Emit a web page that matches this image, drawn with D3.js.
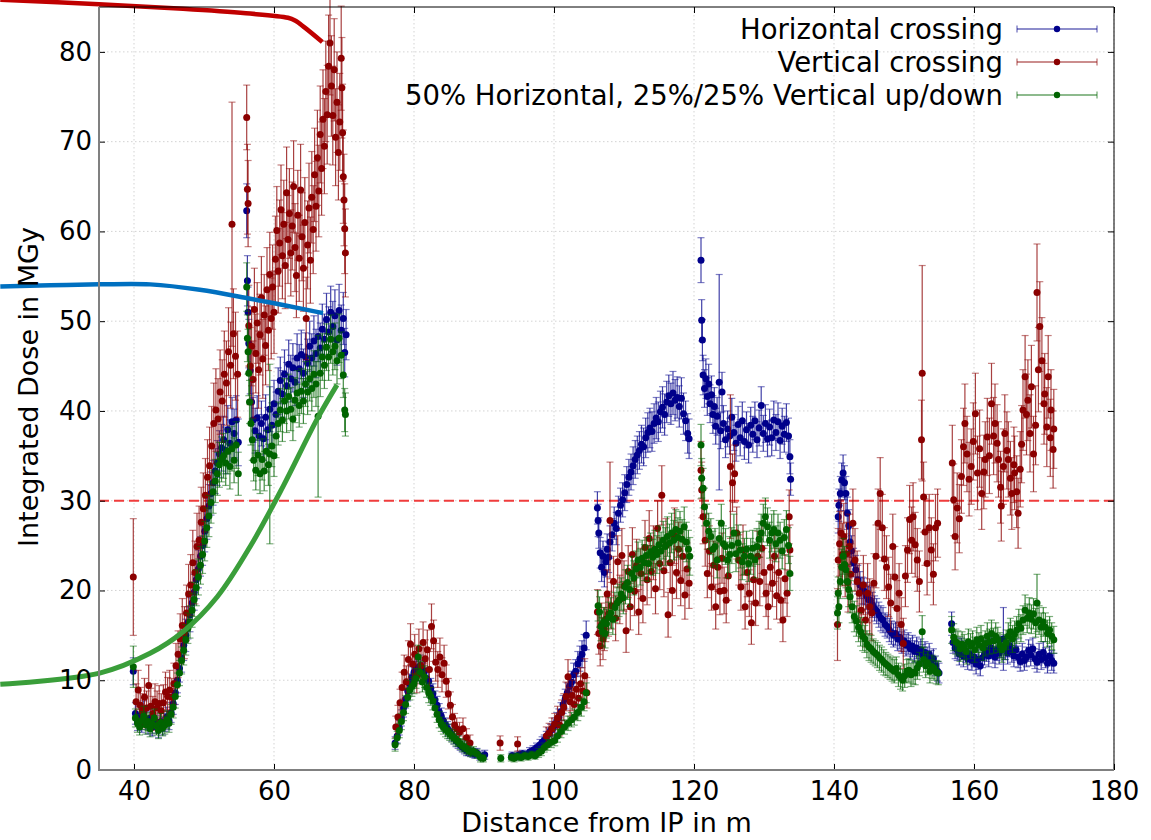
<!DOCTYPE html>
<html><head><meta charset="utf-8">
<script src="https://cdn.jsdelivr.net/npm/d3@7"></script>
<style>
html,body{margin:0;padding:0;background:#fff;}
svg{display:block;font-family:"DejaVu Sans",sans-serif;}
</style></head>
<body><svg id="chart" width="1151" height="840"></svg>
<script>
// ---------------- data ----------------
const xTicks = [40, 60, 80, 100, 120, 140, 160, 180];
const yTicks = [0, 10, 20, 30, 40, 50, 60, 70, 80];
const xLabel = "Distance from IP in m";
const yLabel = "Integrated Dose in MGy";
const seriesNames = ["Horizontal crossing", "Vertical crossing", "50% Horizontal, 25%/25% Vertical up/down"];
const thresholdValue = 30;

// [distance (m), dose (MGy), error (MGy)]
const horizontalData = [
[39.9,11.0,1.5],
[40.2,6.3,1.2],[40.5,5.4,1.0],[40.8,6.0,1.1],[41.1,5.2,1.0],[41.4,6.5,1.2],[41.7,5.5,1.0],[42.0,5.0,1.0],[42.3,5.8,1.1],[42.6,4.8,1.0],[42.9,5.6,1.1],[43.2,5.1,1.0],[43.5,4.6,1.0],[43.8,5.4,1.0],[44.1,4.9,1.0],[44.4,5.3,1.0],[44.7,5.9,1.1],[45.0,5.5,1.0],[45.3,6.4,1.1],[45.6,7.4,1.2],[45.9,8.6,1.3],[46.2,10.0,1.4],[46.5,11.3,1.5],[46.8,12.5,1.6],[47.1,13.9,1.7],[47.4,15.0,1.8],[47.7,16.4,1.8],[48.0,17.3,1.9],[48.3,18.6,2.0],[48.6,19.8,2.0],[48.9,21.2,2.1],[49.2,22.4,2.1],[49.5,23.8,2.2],[49.8,25.0,2.2],[50.1,26.6,2.3],[50.4,28.0,2.3],[50.7,29.4,2.4],[51.0,30.8,2.4],[51.3,32.0,2.5],[51.6,33.3,2.5],[51.9,34.2,2.5],[52.2,35.2,2.6],[52.5,35.9,2.6],[52.8,36.8,2.6],[53.1,35.6,2.6],[53.4,37.9,2.7],[53.7,36.4,2.6],[54.0,38.8,2.7],[54.3,37.5,2.7],[54.6,39.0,2.7],[54.9,36.5,2.6],
[56.1,62.3,3.0],[56.2,54.5,2.8],[56.3,51.0,2.8],[56.4,47.5,2.7],[56.6,44.5,2.6],[56.8,41.0,2.5],[57.0,39.0,2.5],[57.3,37.8,2.5],[57.6,39.2,2.5],[57.9,37.2,2.4],[58.2,38.6,2.5],[58.5,36.9,2.4],[58.8,39.3,2.5],[59.1,37.9,2.5],[59.4,40.2,2.5],[59.7,38.4,2.5],[60.0,40.8,2.6],[60.3,39.6,2.5],[60.6,42.2,2.6],[60.9,43.4,2.6],[61.2,41.9,2.6],[61.5,44.1,2.7],[61.8,42.8,2.6],[62.1,45.2,2.7],[62.4,43.6,2.6],[62.7,44.8,2.7],[63.0,43.2,2.6],[63.3,45.9,2.7],[63.6,44.7,2.7],[63.9,46.3,2.7],[64.2,44.2,2.7],[64.5,46.0,2.7],[64.8,45.3,2.7],[65.1,47.2,2.8],[65.4,45.9,2.7],[65.7,47.8,2.8],[66.0,46.4,2.7],[66.3,48.3,2.8],[66.6,47.0,2.8],[66.9,49.1,2.8],[67.2,48.0,2.8],[67.5,50.2,2.9],[67.8,48.8,2.8],[68.1,51.0,2.9],[68.4,49.4,2.8],[68.7,50.6,2.9],[69.0,47.9,2.8],[69.3,51.2,2.9],[69.6,49.0,2.8],[69.9,50.3,2.9],[70.1,46.5,2.7],[70.3,48.5,2.8],
[77.3,3.0,0.7],[77.6,3.8,0.8],[77.9,4.7,0.8],[78.2,5.8,0.9],[78.5,6.9,1.0],[78.8,7.9,1.0],[79.1,8.8,1.1],[79.4,9.6,1.1],[79.7,10.3,1.2],[80.0,10.9,1.2],[80.3,11.4,1.2],[80.6,11.1,1.2],[80.9,11.6,1.2],[81.2,10.8,1.2],[81.5,11.0,1.2],[81.8,10.2,1.2],[82.1,9.9,1.1],[82.4,9.1,1.1],[82.7,8.5,1.1],[83.0,7.8,1.0],[83.3,7.2,1.0],[83.6,6.5,0.9],[83.9,6.0,0.9],[84.2,5.5,0.9],[84.5,5.0,0.8],[84.8,4.6,0.8],[85.1,4.3,0.8],[85.4,3.9,0.7],[85.7,3.6,0.7],[86.0,3.3,0.7],[86.3,3.1,0.7],[86.6,2.8,0.6],[86.9,2.6,0.6],[87.2,2.4,0.6],[87.5,2.2,0.6],[87.8,2.1,0.5],[88.1,2.0,0.5],[88.4,1.9,0.5],[88.7,1.8,0.5],[89.0,1.9,0.5],[89.4,1.6,0.5],[90.1,1.7,0.5],
[94.0,1.6,0.4],[94.5,1.5,0.4],[95.0,1.7,0.4],[95.5,1.8,0.4],[96.0,1.7,0.4],[96.5,2.0,0.5],[97.0,2.2,0.5],[97.5,2.5,0.5],[98.0,2.8,0.6],[98.3,3.1,0.6],[98.6,3.3,0.6],[98.9,3.6,0.7],[99.2,4.0,0.7],[99.5,4.4,0.7],[99.8,4.6,0.8],[100.1,5.0,0.8],[100.4,5.5,0.9],[100.7,5.9,0.9],[101.0,6.5,1.0],[101.3,7.3,1.0],[101.6,7.9,1.1],[101.9,8.6,1.1],[102.2,9.3,1.2],[102.5,9.8,1.2],[102.8,10.6,1.3],[103.1,11.0,1.3],[103.4,11.8,1.4],[103.7,12.4,1.4],[104.0,12.9,1.5],[104.3,13.6,1.5],[104.6,15.0,1.6],
[106.2,29.2,1.8],[106.3,27.8,1.8],[106.4,26.4,1.7],[106.6,24.2,1.7],[106.8,22.6,1.6],[107.0,23.8,1.7],[107.2,22.0,1.6],[107.4,23.2,1.7],[107.6,24.6,1.7],[107.8,23.7,1.7],[108.0,25.4,1.8],[108.3,26.2,1.8],[108.6,27.5,1.8],[108.9,26.9,1.8],[109.2,28.6,1.9],[109.5,29.5,1.9],[109.8,30.1,1.9],[110.1,30.9,2.0],[110.4,31.8,2.0],[110.7,32.6,2.0],[111.0,33.2,2.0],[111.3,33.9,2.1],[111.6,34.6,2.1],[111.9,35.1,2.1],[112.2,35.6,2.1],[112.5,36.3,2.1],[112.8,36.0,2.1],[113.1,37.0,2.2],[113.4,37.6,2.2],[113.7,38.1,2.2],[114.0,37.7,2.2],[114.3,38.6,2.2],[114.6,39.2,2.3],[114.9,38.8,2.2],[115.2,39.9,2.3],[115.5,40.4,2.3],[115.8,39.6,2.3],[116.1,41.0,2.3],[116.4,41.7,2.3],[116.7,40.8,2.3],[117.0,42.0,2.4],[117.3,41.2,2.3],[117.6,41.5,2.3],[117.9,40.5,2.3],[118.2,41.4,2.3],[118.5,39.7,2.3],[118.8,38.9,2.2],[119.1,37.5,2.2],[119.3,36.9,2.2],
[121.0,56.8,2.5],[121.1,50.1,2.3],[121.2,47.9,2.3],[121.3,44.0,2.2],[121.5,42.5,2.1],[121.7,43.6,2.2],[121.9,41.6,2.1],[122.1,43.0,2.2],[122.3,40.8,2.1],[122.5,41.8,2.1],[122.7,39.6,2.1],[122.9,40.5,2.1],[123.1,38.3,2.0],[123.3,39.4,2.1],[123.6,43.2,12.0],[123.8,37.8,2.0],[124.0,42.1,2.2],[124.2,38.6,2.0],[124.5,36.8,2.0],[124.8,38.0,2.0],[125.1,37.2,2.0],[125.4,39.3,2.1],[125.7,37.6,2.0],[126.0,36.4,2.0],[126.3,38.5,2.0],[126.6,37.0,2.0],[126.9,38.9,2.1],[127.2,36.6,2.0],[127.5,37.9,2.0],[127.8,36.2,2.0],[128.1,38.4,2.0],[128.4,37.4,2.0],[128.7,38.9,2.1],[129.0,36.8,2.0],[129.3,38.1,2.0],[129.6,40.6,2.1],[129.9,37.5,2.0],[130.2,38.6,2.1],[130.5,36.9,2.0],[130.8,38.2,2.0],[131.1,37.0,2.0],[131.4,39.0,2.1],[131.7,37.6,2.0],[132.0,38.8,2.1],[132.3,36.7,2.0],[132.6,38.3,2.0],[132.9,37.4,2.0],[133.2,38.7,2.1],[133.5,37.2,2.0],[133.7,34.9,1.9],[133.8,32.4,1.8],
[140.6,28.2,1.8],[140.7,29.5,1.8],[140.9,30.8,1.9],[141.1,32.3,1.9],[141.3,33.1,2.0],[141.5,32.0,1.9],[141.7,30.8,1.9],[141.9,28.6,1.8],[142.1,27.2,1.8],[142.3,25.4,1.7],[142.5,24.4,1.7],[142.8,23.1,1.6],[143.1,22.3,1.6],[143.4,21.2,1.6],[143.7,20.6,1.5],[144.0,20.0,1.5],[144.3,19.9,1.5],[144.6,19.4,1.5],[144.9,19.0,1.5],[145.2,18.9,1.5],[145.5,18.4,1.4],[145.8,18.0,1.4],[146.1,17.7,1.4],[146.4,17.3,1.4],[146.7,16.9,1.4],[147.0,16.7,1.4],[147.3,16.2,1.3],[147.6,16.0,1.3],[147.9,15.6,1.3],[148.2,15.3,1.3],[148.5,15.0,1.3],[148.8,15.2,1.3],[149.1,14.6,1.3],[149.4,14.8,1.3],[149.7,14.2,1.2],[150.0,14.4,1.2],[150.3,13.9,1.2],[150.6,14.1,1.2],[150.9,13.5,1.2],[151.2,13.8,1.2],[151.5,13.2,1.2],[151.8,13.6,1.2],[152.1,13.1,1.2],[152.4,13.4,1.2],[152.7,12.8,1.2],[153.0,13.1,1.2],[153.3,12.5,1.2],[153.6,12.9,1.2],[153.9,12.2,1.1],[154.2,12.4,1.1],[154.5,11.6,1.1],[154.8,11.0,1.1],[155.0,10.8,1.1],
[156.8,16.3,1.3],[157.0,14.2,1.2],[157.3,13.6,1.2],[157.6,13.4,1.2],[157.9,12.9,1.2],[158.2,13.5,1.2],[158.5,12.7,1.2],[158.8,13.2,1.2],[159.1,12.4,1.2],[159.4,12.9,1.2],[159.7,12.2,1.1],[160.0,12.6,1.1],[160.3,11.8,1.1],[160.6,12.3,1.1],[160.9,11.6,1.1],[161.2,12.5,1.1],[161.5,12.9,1.2],[161.8,13.3,1.2],[162.1,12.7,1.2],[162.4,13.6,1.2],[162.7,13.1,1.2],[163.0,12.6,1.2],[163.3,13.4,1.2],[163.6,13.0,1.2],[163.9,13.7,1.2],[164.2,14.6,3.5],[164.5,13.5,1.2],[164.8,13.0,1.2],[165.1,13.8,1.2],[165.4,13.2,1.2],[165.7,12.7,1.2],[166.0,13.4,1.2],[166.3,12.6,1.2],[166.6,12.1,1.1],[166.9,12.9,1.2],[167.2,12.2,1.1],[167.5,12.6,1.1],[167.8,13.3,1.2],[168.1,12.8,1.2],[168.4,13.5,1.2],[168.7,12.4,1.1],[169.0,12.0,1.1],[169.3,12.9,1.2],[169.6,12.3,1.1],[169.9,13.1,1.2],[170.2,12.5,1.1],[170.5,11.9,1.1],[170.8,12.7,1.1],[171.1,12.2,1.1],[171.4,11.9,1.1]
];

const verticalData = [
[39.9,21.5,6.5],
[40.3,7.6,2.0],[40.6,8.9,2.2],[40.9,7.2,2.0],[41.2,6.6,1.9],[41.5,8.1,2.1],[41.8,6.9,1.9],[42.1,9.4,2.3],[42.4,7.1,2.0],[42.7,6.3,1.9],[43.0,7.6,2.0],[43.3,6.9,1.9],[43.6,7.4,2.0],[43.9,6.6,1.9],[44.2,7.5,2.0],[44.5,8.7,2.2],[44.8,8.2,2.1],[45.1,8.9,2.2],[45.4,8.1,2.1],[45.7,9.6,2.3],[46.0,11.6,2.5],[46.3,12.9,2.6],[46.6,14.6,2.8],[46.9,16.1,3.0],[47.2,15.3,2.9],[47.5,17.5,3.1],[47.8,19.6,3.3],[48.1,20.6,3.4],[48.4,23.1,3.6],[48.7,22.0,3.5],[49.0,24.9,3.7],[49.3,25.6,3.8],[49.6,27.6,3.9],[49.9,29.1,4.0],[50.2,30.6,4.1],[50.5,32.6,4.2],[50.8,33.9,4.3],[51.1,36.1,4.4],[51.4,38.6,4.5],[51.7,40.1,4.6],[52.0,39.1,4.5],[52.3,42.1,4.7],[52.6,41.1,4.6],[52.9,44.1,4.8],[53.2,43.1,4.7],[53.5,46.6,4.9],[53.8,45.1,4.8],[54.0,60.8,13.6],[54.2,48.6,5.0],[54.5,46.1,4.9],[54.8,44.1,4.8],
[56.1,72.7,3.6],[56.2,64.7,5.0],[56.3,63.1,4.8],[56.4,49.5,4.5],[56.6,45.0,4.3],[56.8,47.2,4.4],[57.0,43.5,4.3],[57.2,51.3,4.6],[57.4,46.4,4.4],[57.6,49.8,4.5],[57.8,44.6,4.3],[58.0,48.5,4.5],[58.2,52.6,4.6],[58.4,45.8,4.4],[58.6,50.7,4.5],[58.8,47.3,4.4],[59.0,53.5,4.7],[59.2,49.0,4.5],[59.4,55.2,4.7],[59.6,50.3,4.5],[59.8,53.8,4.7],[60.0,51.0,4.6],[60.2,56.9,4.8],[60.4,60.1,4.9],[60.6,55.6,4.7],[60.8,58.7,4.8],[61.0,62.4,5.0],[61.2,57.3,4.8],[61.4,60.8,4.9],[61.6,56.2,4.8],[61.8,64.3,5.1],[62.0,59.1,4.9],[62.2,62.0,5.0],[62.4,57.6,4.8],[62.6,60.6,4.9],[62.8,65.0,5.1],[63.0,58.2,4.9],[63.2,55.1,4.7],[63.4,61.8,5.0],[63.6,57.0,4.8],[63.8,64.6,5.1],[64.0,59.4,4.9],[64.2,55.9,4.8],[64.4,61.0,5.0],[64.6,50.3,4.6],[64.8,58.5,4.9],[65.0,62.6,5.0],[65.2,56.8,4.8],[65.4,63.8,5.1],[65.6,60.2,4.9],[65.8,66.3,5.2],[66.0,62.8,5.0],[66.2,68.2,5.3],[66.4,64.5,5.1],[66.6,70.8,5.4],[66.8,67.0,5.2],[67.0,72.5,5.5],[67.2,69.5,5.3],[67.4,75.6,5.6],[67.6,73.0,5.5],[67.8,78.4,5.7],[68.0,81.0,5.8],[68.2,76.2,5.6],[68.4,72.9,5.5],[68.6,78.0,5.7],[68.8,70.5,5.4],[69.0,74.4,5.6],[69.2,68.8,5.3],[69.4,72.2,5.4],[69.6,79.3,5.8],[69.7,76.0,5.6],[69.8,71.0,5.4],[69.9,66.1,5.2],[70.0,63.5,5.1],[70.1,60.3,5.0],[70.2,57.6,4.9],
[77.4,4.8,1.2],[77.7,5.9,1.3],[78.0,7.5,1.5],[78.3,9.2,1.7],[78.6,10.9,1.9],[78.9,9.8,1.8],[79.2,12.3,2.1],[79.5,14.0,2.3],[79.8,11.8,2.0],[80.1,12.9,2.2],[80.4,10.5,1.9],[80.7,13.5,2.2],[81.0,11.6,2.0],[81.3,14.2,2.3],[81.6,12.4,2.1],[81.9,13.4,2.2],[82.2,11.2,2.0],[82.5,16.0,2.5],[82.8,14.4,2.3],[83.1,12.0,2.1],[83.4,11.2,2.0],[83.7,12.6,2.1],[84.0,10.6,1.9],[84.3,11.9,2.0],[84.6,9.9,1.8],[84.9,8.5,1.7],[85.2,7.2,1.5],[85.5,5.9,1.4],[85.8,5.0,1.3],[86.1,4.6,1.2],[86.5,4.2,1.1],[87.0,4.6,1.2],[87.5,3.6,1.0],[88.0,3.0,0.9],
[92.3,3.0,0.8],[94.8,2.9,0.8],
[98.9,3.8,1.0],[99.3,4.1,1.1],[99.7,4.6,1.2],[100.1,5.1,1.2],[100.5,5.8,1.3],[100.8,5.0,1.2],[101.1,6.4,1.4],[101.4,7.0,1.5],[101.7,8.2,1.6],[102.0,10.4,1.9],[102.3,7.6,1.6],[102.6,8.3,1.7],[102.9,7.3,1.6],[103.2,9.0,1.8],[103.5,8.0,1.7],[103.8,9.6,1.8],[104.1,8.8,1.7],[104.4,10.5,1.9],[104.7,8.6,1.7],
[106.2,17.6,2.5],[106.4,15.2,2.3],[106.6,13.8,2.2],[106.8,16.2,2.4],[107.0,14.6,2.3],[107.2,15.7,2.4],[107.4,16.8,2.5],[107.6,19.6,2.7],[107.8,17.4,2.5],[108.0,27.8,6.5],[108.2,18.3,2.6],[108.5,21.0,2.8],[108.8,16.9,2.5],[109.1,23.2,2.9],[109.4,19.0,2.7],[109.7,23.9,3.0],[110.0,20.5,2.8],[110.3,15.5,2.4],[110.6,22.1,2.9],[110.9,18.2,2.6],[111.2,24.0,3.0],[111.5,19.9,2.7],[111.8,22.8,2.9],[112.1,17.6,2.5],[112.4,21.9,2.8],[112.7,19.1,2.7],[113.0,24.8,3.0],[113.3,21.2,2.8],[113.6,25.8,3.1],[113.9,22.1,2.9],[114.2,24.2,3.0],[114.5,20.2,2.8],[114.8,26.9,3.1],[115.1,23.0,2.9],[115.4,30.6,3.3],[115.7,22.2,2.9],[116.0,25.0,3.0],[116.3,17.3,2.5],[116.6,23.1,2.9],[116.9,20.0,2.8],[117.2,26.1,3.1],[117.5,22.0,2.9],[117.8,24.6,3.0],[118.1,21.1,2.8],[118.4,23.8,3.0],[118.7,19.5,2.7],[119.0,22.4,2.9],[119.3,20.8,2.8],
[121.0,33.4,3.2],[121.1,31.2,3.1],[121.3,28.2,3.0],[121.6,25.6,2.9],[121.9,21.9,2.7],[122.2,24.4,2.8],[122.5,20.4,2.6],[122.8,22.8,2.7],[123.1,18.2,2.5],[123.4,22.6,2.7],[123.7,19.9,2.6],[124.0,23.6,2.8],[124.3,20.0,2.6],[124.6,18.9,2.5],[124.9,21.6,2.7],[125.2,33.8,8.0],[125.5,32.0,3.2],[125.8,33.0,3.2],[126.1,26.4,2.9],[126.4,23.4,2.8],[126.7,20.4,2.6],[127.0,24.5,2.8],[127.3,18.2,2.5],[127.6,22.0,2.7],[127.9,19.7,2.6],[128.2,16.4,2.4],[128.5,21.2,2.7],[128.8,18.6,2.5],[129.1,23.8,2.8],[129.4,21.0,2.7],[129.7,24.7,2.8],[130.0,22.0,2.7],[130.3,19.7,2.6],[130.6,18.2,2.5],[130.9,22.6,2.7],[131.2,20.8,2.6],[131.5,23.8,2.8],[131.8,19.4,2.6],[132.1,22.0,2.7],[132.4,18.9,2.5],[132.7,16.7,2.4],[133.0,21.3,2.7],[133.3,19.7,2.6],[133.6,28.2,3.0],[133.7,24.5,2.8],
[140.5,16.2,4.0],[140.6,23.4,3.5],[140.8,25.2,3.6],[141.0,26.4,3.7],[141.2,24.0,3.5],[141.4,26.0,3.7],[141.6,22.8,3.5],[141.8,24.1,3.5],[142.0,20.9,3.3],[142.2,24.9,3.6],[142.4,21.8,3.4],[142.7,27.5,3.8],[143.0,23.4,3.5],[143.3,21.0,3.4],[143.6,19.7,3.3],[143.9,17.8,3.1],[144.2,20.6,3.3],[144.5,16.7,3.0],[144.8,19.7,3.3],[145.1,18.2,3.1],[145.4,17.5,3.1],[145.7,20.8,3.3],[146.0,23.8,3.5],[146.3,27.5,3.8],[146.6,30.8,4.0],[146.9,27.0,3.7],[147.2,23.5,3.5],[147.5,22.6,3.5],[147.8,20.4,3.3],[148.1,18.6,3.2],[148.4,24.9,3.6],[148.7,21.5,3.4],[149.0,18.0,3.1],[149.3,19.7,3.3],[149.6,16.2,3.0],[149.9,14.1,2.8],[150.2,21.6,3.4],[150.5,24.5,3.6],[150.8,27.9,3.8],[151.1,25.6,3.7],[151.3,28.2,3.8],[151.6,25.1,3.6],[151.9,23.4,3.5],[152.2,21.0,3.4],[152.5,36.8,4.4],[152.6,44.2,12.0],[152.8,30.4,3.9],[153.0,26.5,3.7],[153.3,23.0,3.5],[153.6,27.0,3.7],[153.9,24.5,3.6],[154.2,21.8,3.4],[154.5,27.0,3.7],[154.8,27.5,3.8],
[156.9,34.2,4.2],[157.1,30.1,4.0],[157.3,26.0,3.7],[157.6,29.2,3.9],[157.9,28.0,3.8],[158.2,32.7,4.1],[158.5,36.0,4.3],[158.7,38.6,4.4],[159.0,35.2,4.2],[159.3,32.4,4.1],[159.6,33.8,4.2],[159.9,36.6,4.3],[160.2,39.7,4.5],[160.5,33.1,4.1],[160.8,35.8,4.3],[161.1,30.8,4.0],[161.4,33.2,4.1],[161.6,34.6,4.2],[161.9,37.1,4.3],[162.2,35.0,4.2],[162.5,40.8,4.5],[162.8,37.2,4.3],[163.0,38.6,4.4],[163.3,36.4,4.3],[163.5,34.6,4.2],[163.8,31.5,4.0],[163.9,29.4,3.9],[164.2,33.8,4.2],[164.4,37.5,4.3],[164.7,35.6,4.3],[164.9,34.6,4.2],[165.2,32.5,4.1],[165.4,30.8,4.0],[165.7,34.0,4.2],[165.8,33.1,4.1],[166.1,31.0,4.0],[166.3,28.6,3.9],[166.6,33.5,4.2],[166.8,36.3,4.3],[167.0,40.1,4.5],[167.3,43.8,4.6],[167.5,39.6,4.5],[167.7,41.2,4.5],[168.0,37.5,4.3],[168.2,42.7,4.6],[168.5,35.2,4.2],[168.8,38.4,4.4],[169.0,53.2,5.4],[169.2,44.6,4.7],[169.4,49.4,5.0],[169.7,45.6,4.8],[170.0,40.8,4.5],[170.1,41.9,4.5],[170.4,38.2,4.4],[170.6,43.8,4.6],[170.9,37.0,4.3],[171.0,40.1,4.5],[171.3,35.7,4.3],[171.4,38.0,4.4]
];

const mixedData = [
[39.9,11.5,2.3],
[40.2,5.8,1.0],[40.5,5.2,1.0],[40.8,4.8,0.9],[41.1,5.5,1.0],[41.4,6.0,1.1],[41.7,5.0,1.0],[42.0,5.4,1.0],[42.3,4.6,0.9],[42.6,5.1,1.0],[42.9,5.8,1.0],[43.2,4.9,1.0],[43.5,4.4,0.9],[43.8,5.3,1.0],[44.1,4.7,0.9],[44.4,5.0,1.0],[44.7,5.6,1.0],[45.0,5.2,1.0],[45.3,6.2,1.1],[45.6,7.0,1.2],[45.9,8.2,1.3],[46.2,9.5,1.3],[46.5,10.8,1.4],[46.8,12.2,1.5],[47.1,13.3,1.6],[47.4,14.5,1.7],[47.7,15.8,1.7],[48.0,16.5,1.8],[48.3,17.8,1.9],[48.6,19.0,1.9],[48.9,20.3,2.0],[49.2,21.5,2.0],[49.5,22.8,2.1],[49.8,24.0,2.1],[50.1,25.5,2.2],[50.4,27.0,2.2],[50.7,28.3,2.3],[51.0,29.8,2.3],[51.3,31.0,2.4],[51.6,32.2,2.4],[51.9,33.0,2.4],[52.2,34.0,2.5],[52.5,34.6,2.5],[52.8,35.0,2.5],[53.1,34.2,2.5],[53.4,35.5,2.5],[53.7,33.8,2.5],[54.0,35.8,2.5],[54.3,34.5,2.5],[54.6,36.2,2.6],[54.9,33.0,2.4],
[56.1,53.8,2.7],[56.2,48.1,2.6],[56.3,46.6,2.5],[56.4,44.2,2.5],[56.5,41.0,2.4],[56.7,38.6,2.4],[56.9,36.8,2.3],[57.1,34.5,2.3],[57.4,33.4,2.2],[57.7,35.1,2.3],[58.0,33.0,2.2],[58.3,34.6,2.3],[58.6,33.3,2.2],[58.9,35.5,2.3],[59.2,34.0,2.3],[59.4,35.2,10.0],[59.7,36.1,2.3],[60.0,35.0,2.3],[60.3,37.2,2.4],[60.6,38.6,2.4],[60.9,40.1,2.4],[61.2,39.0,2.4],[61.5,41.1,2.5],[61.8,40.0,2.4],[62.1,41.6,2.5],[62.4,40.2,2.4],[62.7,39.1,2.4],[63.0,41.2,2.5],[63.3,42.0,2.5],[63.6,40.6,2.4],[63.9,42.2,2.5],[64.2,41.1,2.5],[64.5,43.0,2.5],[64.8,42.1,2.5],[65.1,43.6,2.5],[65.4,42.5,2.5],[65.7,44.1,2.6],[66.0,43.0,2.5],[66.3,39.4,9.0],[66.6,44.2,2.6],[66.9,46.0,2.6],[67.2,45.1,2.6],[67.5,47.1,2.6],[67.8,46.0,2.6],[68.1,48.0,2.7],[68.4,46.6,2.6],[68.7,47.2,2.6],[69.0,45.6,2.6],[69.3,48.1,2.7],[69.6,46.2,2.6],[69.9,44.0,2.5],[70.1,40.1,2.4],[70.2,39.6,2.4],
[77.3,2.8,0.7],[77.6,3.6,0.7],[77.9,4.4,0.8],[78.2,5.4,0.9],[78.5,6.4,0.9],[78.8,7.3,1.0],[79.1,8.1,1.0],[79.4,8.9,1.1],[79.7,9.3,1.1],[80.0,9.6,1.1],[80.3,10.2,1.1],[80.6,12.6,1.3],[80.9,10.9,1.2],[81.2,9.8,1.1],[81.5,10.4,1.2],[81.8,9.2,1.1],[82.1,8.6,1.1],[82.4,8.2,1.0],[82.7,7.7,1.0],[83.0,6.9,1.0],[83.3,6.2,0.9],[83.6,5.6,0.9],[83.9,5.1,0.8],[84.2,4.8,0.8],[84.5,4.5,0.8],[84.8,4.3,0.8],[85.1,4.0,0.7],[85.4,3.8,0.7],[85.7,3.6,0.7],[86.0,3.4,0.7],[86.3,3.2,0.6],[86.6,2.9,0.6],[86.9,2.7,0.6],[87.2,2.6,0.6],[87.5,2.4,0.6],[87.8,2.2,0.5],[88.1,2.0,0.5],[88.5,2.1,0.5],[89.0,1.8,0.5],[89.5,1.4,0.5],[89.9,1.3,0.4],
[92.4,1.3,0.4],[93.9,1.4,0.4],[94.3,1.3,0.4],[94.7,1.5,0.4],[95.3,1.4,0.4],[95.8,1.6,0.4],[96.3,1.5,0.4],[96.8,1.7,0.4],[97.3,1.6,0.4],[97.8,1.9,0.5],[98.2,2.1,0.5],[98.6,2.5,0.5],[99.1,2.8,0.6],[99.6,3.1,0.6],[100.1,3.3,0.6],[100.5,3.8,0.7],[101.0,4.3,0.7],[101.5,4.8,0.8],[102.0,5.2,0.8],[102.5,5.6,0.8],[102.9,5.9,0.9],[103.4,6.4,0.9],[103.9,7.0,1.0],[104.3,7.6,1.0],[104.6,8.6,1.1],
[106.3,18.3,1.7],[106.5,17.6,1.7],[106.7,16.0,1.6],[106.9,15.4,1.6],[107.1,16.5,1.6],[107.3,15.2,1.6],[107.5,16.3,1.6],[107.8,17.0,1.7],[108.1,17.5,1.7],[108.4,16.8,1.7],[108.7,18.1,1.7],[109.0,18.6,1.8],[109.3,18.9,1.8],[109.6,19.6,1.8],[109.9,19.2,1.8],[110.2,20.4,1.9],[110.5,20.9,1.9],[110.8,20.1,1.9],[111.1,21.9,1.9],[111.4,21.4,1.9],[111.7,22.4,2.0],[112.0,23.4,2.0],[112.3,22.6,2.0],[112.6,23.6,2.0],[112.9,23.1,2.0],[113.2,23.9,2.0],[113.5,23.0,2.0],[113.8,24.3,2.1],[114.1,23.7,2.0],[114.4,24.6,2.1],[114.7,24.0,2.1],[115.0,25.1,2.1],[115.3,24.4,2.1],[115.6,25.6,2.1],[115.9,24.9,2.1],[116.2,26.0,2.2],[116.5,25.3,2.1],[116.8,26.4,2.2],[117.1,25.6,2.2],[117.4,26.8,2.2],[117.7,25.9,2.2],[118.0,26.6,2.2],[118.3,25.7,2.2],[118.6,27.1,2.2],[118.9,25.4,2.2],[119.2,24.6,2.1],[119.4,23.8,2.1],
[121.0,36.2,2.3],[121.1,32.5,2.2],[121.3,31.4,2.2],[121.5,29.3,2.1],[121.8,27.5,2.1],[122.1,26.6,2.0],[122.4,26.0,2.0],[122.7,24.6,2.0],[123.0,24.9,2.0],[123.3,23.4,2.0],[123.6,25.8,2.0],[123.9,27.5,2.1],[124.2,25.2,2.0],[124.5,24.9,2.0],[124.8,23.4,2.0],[125.1,24.0,2.0],[125.4,25.0,2.0],[125.7,26.4,2.1],[126.0,24.1,2.0],[126.3,25.3,2.0],[126.6,24.5,2.0],[126.9,23.2,2.0],[127.2,23.8,2.0],[127.5,24.6,2.0],[127.8,23.0,2.0],[128.1,23.8,2.0],[128.4,24.7,2.0],[128.7,23.4,2.0],[129.0,24.9,2.0],[129.3,25.7,2.0],[129.6,26.4,2.1],[129.9,27.5,2.1],[130.2,28.2,2.1],[130.5,27.1,2.1],[130.8,25.6,2.0],[131.1,26.4,2.1],[131.4,26.8,2.1],[131.7,25.2,2.0],[132.0,26.4,2.1],[132.3,25.6,2.0],[132.6,24.4,2.0],[132.9,25.9,2.0],[133.2,26.8,2.1],[133.5,25.0,2.0],[133.7,21.9,1.9],
[140.5,17.5,1.8],[140.6,19.7,1.8],[140.7,18.2,1.8],[140.9,21.0,1.9],[141.1,22.6,2.0],[141.3,23.8,2.0],[141.5,22.9,2.0],[141.7,22.3,2.0],[141.9,21.0,1.9],[142.1,20.1,1.9],[142.3,19.3,1.8],[142.6,18.2,1.8],[142.9,17.1,1.7],[143.2,16.6,1.7],[143.5,15.9,1.6],[143.8,15.4,1.6],[144.1,14.9,1.6],[144.4,14.6,1.5],[144.7,14.0,1.5],[145.0,13.7,1.5],[145.3,13.5,1.5],[145.6,13.2,1.4],[145.9,13.0,1.4],[146.2,12.8,1.4],[146.5,12.5,1.4],[146.8,12.3,1.4],[147.1,12.0,1.4],[147.4,11.8,1.3],[147.7,11.6,1.3],[148.0,11.4,1.3],[148.3,11.2,1.3],[148.6,11.0,1.3],[148.9,11.3,1.3],[149.2,10.6,1.3],[149.5,10.3,1.3],[149.8,10.0,1.2],[150.1,10.5,1.3],[150.4,11.0,1.3],[150.7,11.1,1.3],[151.0,10.6,1.3],[151.3,10.9,1.3],[151.6,10.8,1.3],[151.9,11.4,1.3],[152.2,11.8,1.3],[152.6,15.4,1.8],[152.8,12.3,1.4],[153.1,11.6,1.3],[153.4,11.9,1.3],[153.7,11.0,1.3],[154.0,11.5,1.3],[154.3,11.3,1.3],[154.6,10.9,1.3],[154.9,10.8,1.3],
[156.8,15.6,1.5],[157.1,14.8,1.5],[157.4,14.3,1.4],[157.7,14.1,1.4],[158.0,13.5,1.4],[158.3,14.0,1.4],[158.6,13.7,1.4],[158.9,13.2,1.4],[159.2,14.3,1.4],[159.5,13.8,1.4],[159.8,14.1,1.4],[160.1,13.4,1.4],[160.4,14.5,1.4],[160.7,13.9,1.4],[161.0,14.6,1.5],[161.3,13.6,1.4],[161.6,14.1,1.4],[161.9,14.9,1.5],[162.2,14.3,1.4],[162.5,15.2,1.5],[162.8,14.4,1.4],[163.1,14.9,1.5],[163.4,14.5,1.4],[163.7,13.9,1.4],[164.0,13.4,1.4],[164.3,13.7,1.4],[164.6,14.2,1.4],[164.9,14.9,1.5],[165.2,15.4,1.5],[165.5,14.6,1.5],[165.8,15.1,1.5],[166.1,15.6,1.5],[166.4,16.3,1.6],[166.7,15.8,1.5],[167.0,16.7,1.6],[167.3,17.8,1.7],[167.6,16.9,1.6],[167.9,17.5,1.7],[168.2,16.8,1.6],[168.5,17.4,1.7],[168.8,16.4,1.6],[169.0,18.6,3.2],[169.3,16.7,1.6],[169.6,15.9,1.6],[169.9,16.5,1.6],[170.2,15.9,1.6],[170.5,15.2,1.5],[170.8,15.6,1.5],[171.1,14.9,1.5],[171.4,14.5,1.5]
];

// overlaid guide curves [distance, dose]
const redCurve   = [[20.9,85.8],[35.0,85.3],[47.0,84.8],[56.0,84.3],[62.0,83.8],[63.0,83.5],[64.4,82.7],[66.9,81.1]];
const blueCurve  = [[20.9,53.85],[28.0,54.0],[35.1,54.1],[42.3,54.1],[49.4,53.5],[56.6,52.5],[61.3,51.8],[67.0,50.9]];
const greenCurve = [[20.9,9.55],[35.1,10.8],[42.3,13.0],[47.0,15.4],[51.9,19.3],[56.6,24.9],[61.3,31.6],[66.1,39.0],[69.0,42.9]];

// ---------------- drawing ----------------
const svg = d3.select("#chart");
const L = 99, R = 1114, T = 7, B = 770;
const x = d3.scaleLinear().domain([35, 180]).range([L, R]);
const y = d3.scaleLinear().domain([0, 85]).range([B, T]);

// grid
const grid = svg.append("g");
grid.selectAll(".gx").data(xTicks).join("line")
  .attr("x1", d => x(d)).attr("x2", d => x(d)).attr("y1", T).attr("y2", B)
  .attr("stroke", "#c8c8c8").attr("stroke-width", 0.8).attr("stroke-dasharray", "1.5,2.5");
grid.selectAll(".gy").data(yTicks).join("line")
  .attr("x1", L).attr("x2", R).attr("y1", d => y(d)).attr("y2", d => y(d))
  .attr("stroke", "#c8c8c8").attr("stroke-width", 0.8).attr("stroke-dasharray", "1.5,2.5");

// threshold line
svg.append("line")
  .attr("x1", L).attr("x2", R).attr("y1", y(thresholdValue)).attr("y2", y(thresholdValue))
  .attr("stroke", "#f03c3c").attr("stroke-width", 2).attr("stroke-dasharray", "10,5");

// error bar series
const series = [
  {data: horizontalData, color: "#00008b"},
  {data: verticalData,   color: "#8b0000"},
  {data: mixedData,      color: "#006400"}
];
series.forEach(s => {
  const g = svg.append("g");
  const bars = g.append("g").attr("stroke", s.color).attr("stroke-width", 1.2).attr("stroke-opacity", 0.75);
  bars.selectAll("line.v").data(s.data).join("line")
    .attr("x1", d => x(d[0])).attr("x2", d => x(d[0]))
    .attr("y1", d => y(d[1] - d[2])).attr("y2", d => y(d[1] + d[2]));
  bars.selectAll("line.ct").data(s.data).join("line").attr("class", "ct")
    .attr("x1", d => x(d[0]) - 3.5).attr("x2", d => x(d[0]) + 3.5)
    .attr("y1", d => y(d[1] + d[2])).attr("y2", d => y(d[1] + d[2]))
    .attr("stroke-opacity", 0.5);
  bars.selectAll("line.cb").data(s.data).join("line").attr("class", "cb")
    .attr("x1", d => x(d[0]) - 3.5).attr("x2", d => x(d[0]) + 3.5)
    .attr("y1", d => y(d[1] - d[2])).attr("y2", d => y(d[1] - d[2]))
    .attr("stroke-opacity", 0.5);
  g.selectAll("circle").data(s.data).join("circle")
    .attr("cx", d => x(d[0])).attr("cy", d => y(d[1])).attr("r", 3.5)
    .attr("fill", s.color);
});

// guide curves
const lineGen = d3.line().x(d => x(d[0])).y(d => y(d[1])).curve(d3.curveCatmullRom.alpha(0.5));
[[redCurve, "#c00000", 4.5], [blueCurve, "#0070c0", 4.5], [greenCurve, "#3a9e3a", 5]].forEach(([c, col, w]) => {
  svg.append("path").attr("d", lineGen(c)).attr("fill", "none")
    .attr("stroke", col).attr("stroke-width", w).attr("stroke-linecap", "butt");
});

// axes
const fs = "26px";
const ax = svg.append("g").attr("transform", `translate(0,${B})`)
  .call(d3.axisBottom(x).tickValues(xTicks).tickSizeInner(-6).tickSizeOuter(0).tickPadding(12).tickFormat(d3.format("d")));
const ay = svg.append("g").attr("transform", `translate(${L},0)`)
  .call(d3.axisLeft(y).tickValues(yTicks).tickSizeInner(-6).tickSizeOuter(0).tickPadding(7).tickFormat(d3.format("d")));
const at = svg.append("g").attr("transform", `translate(0,${T})`)
  .call(d3.axisTop(x).tickValues(xTicks).tickSizeInner(-6).tickSizeOuter(0).tickFormat(""));
const ar = svg.append("g").attr("transform", `translate(${R},0)`)
  .call(d3.axisRight(y).tickValues(yTicks).tickSizeInner(-6).tickSizeOuter(0).tickFormat(""));
[ax, ay, at, ar].forEach(a => {
  a.select(".domain").remove();
  a.selectAll(".tick line").attr("stroke", "#000").attr("stroke-width", 1);
  a.selectAll(".tick text").attr("font-size", fs).attr("fill", "#000").attr("font-family", "DejaVu Sans");
});

// spines
svg.append("line").attr("x1", L).attr("x2", R).attr("y1", T).attr("y2", T).attr("stroke", "#000").attr("stroke-width", 1);
svg.append("line").attr("x1", R).attr("x2", R).attr("y1", T).attr("y2", B).attr("stroke", "#000").attr("stroke-width", 1);
svg.append("line").attr("x1", L).attr("x2", L).attr("y1", T).attr("y2", B + 1).attr("stroke", "#808080").attr("stroke-width", 2);
svg.append("line").attr("x1", L - 1).attr("x2", R).attr("y1", B).attr("y2", B).attr("stroke", "#808080").attr("stroke-width", 2);

// axis labels
svg.append("text").attr("x", (L + R) / 2).attr("y", 832).attr("text-anchor", "middle")
  .attr("font-size", "27px").text(xLabel);
svg.append("text").attr("transform", `translate(38,${387}) rotate(-90)`).attr("text-anchor", "middle")
  .attr("font-size", "27px").text(yLabel);

// legend
const legY = [29, 62, 95];
const legCols = ["#00008b", "#8b0000", "#006400"];
seriesNames.forEach((name, i) => {
  const g = svg.append("g").attr("transform", `translate(0,${legY[i]})`);
  g.append("text").attr("x", 1003).attr("y", 0).attr("dy", "0.35em").attr("text-anchor", "end")
    .attr("font-size", "27.5px").text(name);
  g.append("line").attr("x1", 1017).attr("x2", 1097).attr("y1", 0).attr("y2", 0)
    .attr("stroke", legCols[i]).attr("stroke-width", 1.5).attr("stroke-opacity", 0.6);
  [1017, 1097].forEach(cx => g.append("line").attr("x1", cx).attr("x2", cx).attr("y1", -3.5).attr("y2", 3.5)
    .attr("stroke", legCols[i]).attr("stroke-width", 1).attr("stroke-opacity", 0.7));
  g.append("circle").attr("cx", 1057).attr("cy", 0).attr("r", 3.2).attr("fill", legCols[i]);
});
</script>
</body></html>
